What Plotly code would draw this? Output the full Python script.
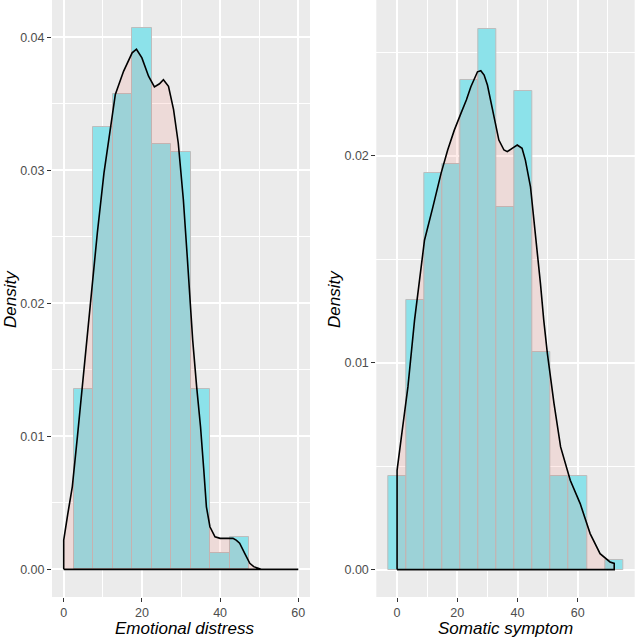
import plotly.graph_objects as go
from plotly.subplots import make_subplots

# ---- Data: Emotional distress (left panel) ----
ed_bin_centers = [5, 10, 15, 20, 25, 30, 35, 40, 45]
ed_bin_density = [0.01354, 0.03323, 0.03574, 0.04066, 0.03198, 0.03140, 0.01354, 0.00120, 0.00243]
ed_binwidth = 5

ed_kde_x = [0, 0, 1.0, 2.2, 3.5, 4.75, 6.4, 8.6, 10.3, 12.0, 13.2, 15.3, 17.5, 18.6, 20.0, 21.7,
            23.2, 24.5, 25.5, 26.8, 28.1, 29.3, 30.6, 31.6, 32.3, 33.0, 34.0, 35.0, 35.8, 36.5,
            37.4, 38.7, 40.0, 41.5, 43.3, 44.2, 45.0, 46.3, 47.6, 48.6, 49.7, 50.5, 60.0, 0]
ed_kde_y = [0, 0.0022, 0.0041, 0.00622, 0.00998, 0.01374, 0.01875, 0.0253, 0.0298, 0.0333, 0.0357,
            0.03744, 0.03883, 0.0391, 0.03845, 0.03707, 0.03627, 0.03650, 0.0368, 0.03631, 0.03456,
            0.03205, 0.0278, 0.0235, 0.02026, 0.0172, 0.01374, 0.0107, 0.0076, 0.0047, 0.0032,
            0.00245, 0.00233, 0.00232, 0.00233, 0.00218, 0.00196, 0.0012, 0.00045, 0.0002, 0.0001,
            0, 0, 0]

# ---- Data: Somatic symptom (right panel) ----
ss_bin_centers = [0, 6, 12, 18, 24, 30, 36, 42, 48, 54, 60, 66, 72]
ss_bin_density = [0.00451, 0.01302, 0.01915, 0.01958, 0.02366, 0.02613, 0.01753, 0.02314,
                  0.01052, 0.00451, 0.00451, 0.0, 0.00045]
ss_binwidth = 6

ss_kde_x = [0, 0, 1.43, 3.6, 5.8, 7.5, 9.1, 11.9, 14.6, 16.8, 19.0, 21.2, 23.0, 24.5, 25.6, 26.7,
            27.8, 28.9, 30.0, 31.1, 32.8, 33.8, 35.5, 36.6, 38.2, 39.9, 41.5, 42.6, 44.3, 45.4,
            46.5, 47.6, 48.7, 49.9, 52.1, 54.3, 57.5, 60.8, 64.1, 67.4, 70.7, 72.1, 72.1, 0]
ss_kde_y = [0, 0.0048, 0.00641, 0.00883, 0.01206, 0.0142, 0.01592, 0.01753, 0.01915, 0.02028,
            0.02124, 0.02205, 0.0227, 0.02334, 0.02374, 0.02406, 0.02411, 0.0239, 0.02342, 0.02269,
            0.0214, 0.02076, 0.02028, 0.0202, 0.02036, 0.02052, 0.02036, 0.01979, 0.0185, 0.01705,
            0.01544, 0.01383, 0.01206, 0.01045, 0.00803, 0.00593, 0.00432, 0.00319, 0.00174,
            0.00077, 0.00037, 0.0003, 0, 0]

x_ticks = [0, 20, 40, 60]
y_ticks = [0.00, 0.01, 0.02, 0.03, 0.04]
x_titles = ["Emotional distress", "Somatic symptom"]
y_title = "Density"

# ---- Styling / layout geometry (screen pixels) ----
W, H = 638, 641
FONT = "Liberation Sans, Arial, sans-serif"
BAR_FILL = "#8CE2EA"
BAR_LINE = "#BDBDBD"
KDE_FILL = "rgba(248,118,109,0.15)"
BG = "#EBEBEB"


def px_x(p):
    return p / W


def px_y(p):
    return 1 - p / H


fig = make_subplots(rows=1, cols=2)

fig.add_trace(go.Bar(x=ed_bin_centers, y=ed_bin_density, width=ed_binwidth,
                     marker=dict(color=BAR_FILL, line=dict(color=BAR_LINE, width=1)),
                     showlegend=False, hoverinfo="skip"), row=1, col=1)
fig.add_trace(go.Scatter(x=ed_kde_x, y=ed_kde_y, mode="lines", fill="toself", fillcolor=KDE_FILL,
                         line=dict(color="black", width=1.6), showlegend=False, hoverinfo="skip"),
              row=1, col=1)

fig.add_trace(go.Bar(x=ss_bin_centers, y=ss_bin_density, width=ss_binwidth,
                     marker=dict(color=BAR_FILL, line=dict(color=BAR_LINE, width=1)),
                     showlegend=False, hoverinfo="skip"), row=1, col=2)
fig.add_trace(go.Scatter(x=ss_kde_x, y=ss_kde_y, mode="lines", fill="toself", fillcolor=KDE_FILL,
                         line=dict(color="black", width=1.6), showlegend=False, hoverinfo="skip"),
              row=1, col=2)

ydom = [px_y(597), 1.0]
common_axis = dict(showline=False, zeroline=False, ticks="outside", ticklen=4, tickwidth=1,
                   tickcolor="#333333", gridcolor="white", gridwidth=1.6, automargin=False,
                   tickfont=dict(family=FONT, size=12.5, color="#4D4D4D"))

fig.update_xaxes(**common_axis)
fig.update_yaxes(**common_axis)

minor_x = dict(dtick=10, tick0=0, showgrid=True, gridcolor="white", gridwidth=0.8, ticks="")
minor_y = dict(dtick=0.005, tick0=0, showgrid=True, gridcolor="white", gridwidth=0.8, ticks="")

fig.update_layout(
    xaxis=dict(domain=[px_x(52), px_x(310)], range=[-3, 63], tickvals=x_ticks, minor=minor_x),
    yaxis=dict(domain=ydom, range=[-0.00208, 0.0428], tickvals=y_ticks, tickformat=".2f",
               minor=minor_y),
    xaxis2=dict(domain=[px_x(376.3), px_x(634.7)], range=[-6.9, 78.9], tickvals=x_ticks, minor=minor_x),
    yaxis2=dict(domain=ydom, range=[-0.001325, 0.02753], tickvals=y_ticks[:3],
                tickformat=".2f", minor=minor_y),
    width=W, height=H,
    margin=dict(l=0, r=0, t=0, b=0),
    paper_bgcolor="white", plot_bgcolor=BG,
    bargap=0, barmode="overlay",
    font=dict(family=FONT),
)

title_font = dict(family=FONT, size=17, color="black")
annotations = [
    dict(text="<i>%s</i>" % y_title, x=px_x(10), y=px_y(299), textangle=-90),
    dict(text="<i>%s</i>" % y_title, x=px_x(334), y=px_y(299), textangle=-90),
    dict(text="<i>%s</i>" % x_titles[0], x=px_x(184), y=px_y(628)),
    dict(text="<i>%s</i>" % x_titles[1], x=px_x(505), y=px_y(628)),
]
for a in annotations:
    fig.add_annotation(xref="paper", yref="paper", showarrow=False, xanchor="center",
                       yanchor="middle", font=title_font, **a)

fig.write_html("out.html", config={"displayModeBar": False},
               post_script="document.body.style.margin='0';document.body.style.overflow='hidden';")
